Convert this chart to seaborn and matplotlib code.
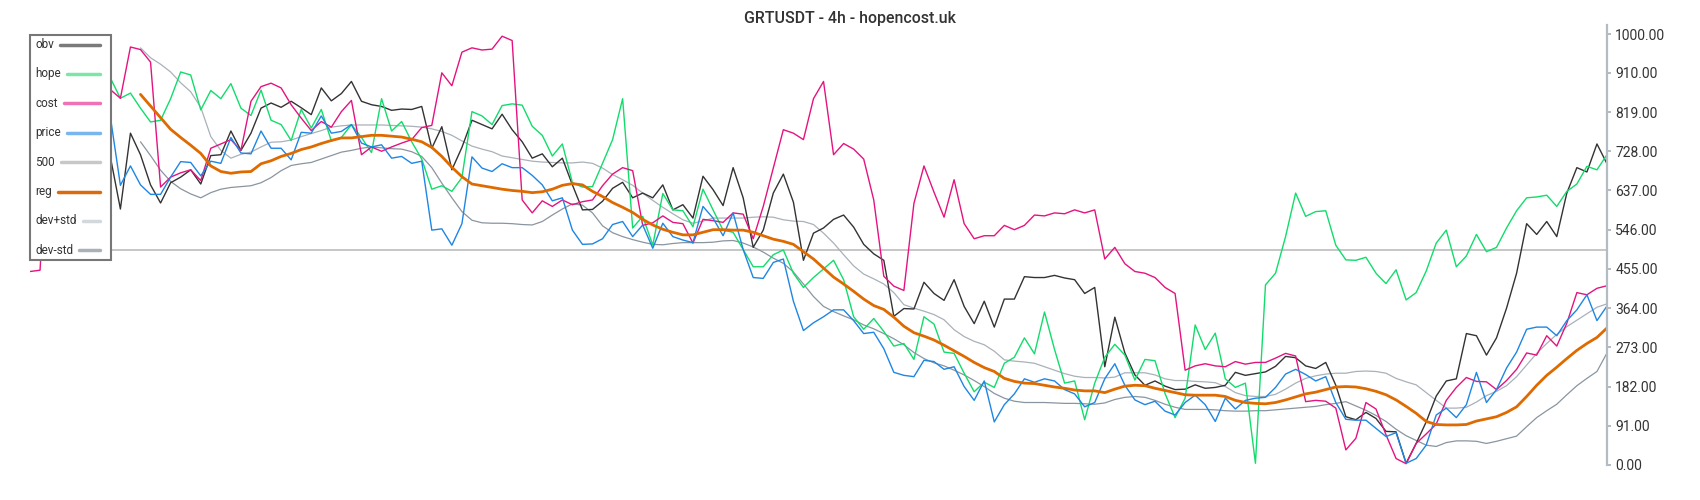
import matplotlib
matplotlib.use('Agg')
import matplotlib.pyplot as plt
from matplotlib.lines import Line2D
from matplotlib.patches import Rectangle
import pandas as pd
import seaborn as sns

nan = float('nan')

# normalised series, one value per 4h bar
obv = [760, 720, 800, 700, 780, 740, 690, 760, 715,
       594, 770, 720, 650, 608, 655, 668, 685, 652, 718, 720, 775, 730, 770, 828, 840, 830, 844, 829, 813,
       875, 845, 862, 890, 844, 836, 832, 823, 826, 825, 832, 735, 785, 685, 737, 800, 790, 780, 814, 778,
       750, 712, 722, 692, 712, 650, 592, 593,
       612, 642, 656, 620, 631, 620, 650, 592, 604, 573, 670, 639, 602, 690, 620, 505, 545, 631, 675, 610,
       475, 538, 550, 570, 580, 552, 512, 490,
       475, 345, 363, 362, 424, 398, 382, 430, 368, 328, 380, 320, 385, 385, 437, 435, 435, 440, 434, 430,
       398, 412, 228, 343, 260, 209, 185, 195,
       183, 175, 176, 186, 178, 180, 185, 215, 208, 212, 216, 229, 252, 249, 230, 224, 238, 185, 112, 105,
       122, 108, 78, 77, 4,
       50, 100, 160, 195, 200, 305, 300, 255, 295, 364, 445, 560, 535, 565, 530, 631, 690, 680, 745, 699]

hope = [880, 900, 860, 910, 870, 890, 850, 880, 898,
        851, 863, 828, 796, 800, 850, 912, 905, 824, 869, 850, 885, 828, 811, 870, 800, 790, 753, 825, 782,
        825, 752, 760, 790, 760, 725, 850, 775, 797, 750, 710, 640, 648, 635, 667, 820, 810, 790, 834, 838,
        835, 786, 765, 717, 745, 655, 645, 646,
        700, 755, 850, 550, 577, 510, 630, 592, 590, 553, 640, 592, 545, 540, 500, 460, 460, 488, 499, 445,
        412, 435, 455, 475, 430, 344, 315, 340,
        310, 276, 282, 245, 344, 327, 262, 259, 213, 170, 192, 180, 236, 250, 295, 258, 355, 268, 190, 195,
        105, 190, 250, 280, 255, 197, 245, 242,
        166, 110, 155, 325, 268, 306, 200, 180, 190, 4, 418, 445, 530, 631, 577, 588, 590, 510, 476, 475,
        482, 445, 421, 453, 383,
        400, 450, 515, 545, 460, 485, 535, 495, 505, 550, 590, 620, 622, 626, 600, 635, 652, 693, 685, 720]

cost = [449, 452, 870, 900, 880, 920, 890, 860, 871,
        851, 970, 964, 935, 645, 668, 678, 685, 660, 735, 745, 755, 730, 844, 878, 886, 875, 836, 805, 776,
        797, 784, 820, 846, 720, 738, 728, 738, 747, 755, 783, 788, 910, 880, 958, 968, 963, 965, 995, 985,
        615, 585, 613, 600, 615, 604, 611, 615,
        648, 675, 690, 683, 556, 562, 578, 563, 560, 515, 570, 567, 563, 585, 582, 525, 600, 689, 778, 770,
        755, 850, 890, 720, 746, 733, 710, 615,
        438, 415, 405, 607, 694, 633, 575, 662, 560, 525, 532, 532, 556, 546, 556, 580, 578, 585, 583, 592,
        585, 592, 478, 505, 467, 449, 445, 435,
        412, 398, 220, 230, 235, 230, 228, 240, 234, 238, 238, 248, 259, 253, 147, 150, 148, 132, 35, 62,
        145, 130, 70, 15, 3,
        50, 72, 95, 150, 180, 203, 194, 193, 175, 196, 222, 260, 255, 300, 276, 329, 400, 395, 410, 416]

price = [800, 830, 790, 850, 820, 780, 810, 840, 808,
         649, 694, 650, 628, 628, 668, 704, 702, 671, 705, 700, 760, 724, 722, 775, 735, 735, 708, 772, 770,
         810, 770, 774, 790, 747, 738, 743, 712, 716, 700, 705, 545, 548, 510, 560, 715, 689, 681, 699, 690,
         690, 672, 650, 613, 620, 545, 512, 513,
         525, 558, 565, 530, 557, 503, 561, 530, 522, 516, 600, 573, 532, 585, 500, 435, 433, 470, 478, 380,
         312, 330, 344, 360, 360, 335, 305, 308,
         270, 215, 208, 205, 243, 240, 222, 228, 182, 150, 195, 100, 140, 165, 200, 192, 200, 195, 175, 165,
         135, 145, 200, 235, 185, 151, 140, 148,
         125, 116, 145, 162, 140, 101, 155, 130, 150, 155, 157, 180, 211, 222, 210, 195, 205, 145, 106, 104,
         104, 85, 66, 75, 4,
         15, 46, 116, 132, 110, 140, 215, 145, 175, 225, 262, 315, 320, 320, 300, 335, 360, 395, 335, 369]

reg = [nan] * 11 + [
    860, 833, 806, 779, 760, 742, 723, 694, 681, 677, 680, 681, 699, 706, 716, 723, 732, 738,
    746, 753, 759, 759, 762, 765, 765, 763, 761, 756, 750, 737, 716, 691, 669, 652, 648, 644, 640, 637,
    635, 632, 634, 640, 649, 653, 650, 635,
    623, 609, 598, 586, 570, 557, 547, 540, 534, 534, 540, 546, 546, 545, 545, 540, 532, 524, 519, 512,
    495, 478, 457, 436, 420, 403, 385, 370,
    361, 343, 322, 307, 299, 290, 278, 265, 252, 238, 226, 217, 201, 194, 190, 189, 185, 181, 178, 174,
    172, 172, 168, 176, 183, 185, 184, 178,
    173, 168, 163, 162, 162, 162, 159, 150, 145, 143, 142, 145, 151, 158, 165, 169, 175, 181, 182, 181,
    177, 171, 163, 151, 136,
    120, 101, 94, 93, 93, 94, 102, 107, 112, 122, 135, 159, 185, 208, 227, 247, 266, 282, 296, 318]

dev_plus = [nan] * 11 + [
    968, 945, 930, 912, 887, 866, 830, 762, 730, 712, 721, 726, 738, 749, 750, 754, 762, 769,
    776, 784, 787, 789, 789, 789, 789, 788, 787, 786, 784, 780, 774, 765, 752, 740, 733, 727, 717, 713,
    709, 705, 703, 702, 701, 701, 703, 700,
    689, 674, 662, 649, 631, 614, 598, 583, 569, 561, 566, 573, 573, 573, 573, 575, 576, 575, 569, 566,
    565, 558, 538, 515, 488, 462, 443, 432,
    420, 400, 372, 364, 357, 349, 337, 314, 298, 287, 279, 264, 244, 241, 239, 236, 228, 220, 212, 206,
    203, 203, 202, 204, 214, 214, 214, 209,
    200, 196, 196, 194, 193, 191, 182, 168, 161, 159, 159, 164, 176, 190, 201, 207, 211, 213, 213, 217,
    218, 217, 213, 201, 193,
    186, 168, 150, 132, 132, 134, 146, 161, 171, 184, 205, 232, 259, 282, 303, 321, 336, 351, 366, 374]

dev_minus = [nan] * 11 + [
    750, 718, 684, 658, 641, 629, 620, 632, 640, 644, 646, 648, 655, 667, 683, 695, 699, 702,
    710, 718, 726, 730, 735, 738, 736, 734, 733, 727, 716, 690, 654, 620, 588, 568, 562, 561, 561, 560,
    558, 557, 565, 580, 594, 606, 603, 585,
    555, 539, 530, 523, 517, 512, 511, 514, 516, 516, 516, 517, 520, 521, 515, 506, 494, 480, 468, 448,
    420, 391, 368, 356, 346, 337, 325, 316,
    305, 293, 279, 261, 247, 237, 230, 220, 209, 196, 182, 166, 155, 148, 145, 145, 145, 144, 143, 143,
    142, 141, 144, 152, 157, 159, 157, 150,
    141, 134, 129, 129, 129, 128, 126, 125, 125, 126, 126, 128, 130, 132, 134, 136, 140, 143, 147, 137,
    127, 115, 101, 83, 68,
    57, 46, 43, 52, 56, 56, 55, 50, 55, 61, 67, 89, 110, 126, 141, 163, 184, 201, 217, 260]

level_500 = 500

tick_values = [0, 91, 182, 273, 364, 455, 546, 637, 728, 819, 910, 1000]

df = pd.DataFrame({'bar': range(len(obv)), 'obv': obv, 'hope': hope, 'cost': cost,
                   'price': price, 'reg': reg, 'dev+std': dev_plus, 'dev-std': dev_minus})

sns.set_style('white')
plt.rcParams['font.family'] = ['Roboto', 'DejaVu Sans']

W, H = 1700, 500
fig = plt.figure(figsize=(W / 100, H / 100), dpi=100)
ax = fig.add_axes([30 / W, 0.07, 1577 / W, 0.88])

# (column, line colour, legend colour, width)
styles = [
    ('dev+std', '#a9b1b9', '#d3d8dd', 0.9),
    ('dev-std', '#8a95a0', '#a8b1ba', 0.9),
    ('obv', '#333333', '#7a7a7a', 1.0),
    ('hope', '#12dc6c', '#7be6a6', 1.0),
    ('cost', '#e5137f', '#ee72b4', 1.0),
    ('price', '#1e86e3', '#7ab6ee', 1.0),
    ('reg', '#de6a00', '#d96a10', 2.0),
]

ax.axhline(level_500, color='#c6c6c6', lw=1.4, zorder=1)
for col, color, _, lw in styles:
    part = df[['bar', col]].dropna()
    sns.lineplot(x=part['bar'], y=part[col], color=color, lw=lw, estimator=None, ax=ax)

ax.set_xlim(0, len(obv) - 1)
ax.set_ylim(0, 1021)
ax.set_xlabel('')
ax.set_ylabel('')
ax.set_xticks([])
ax.yaxis.tick_right()
ax.set_yticks(tick_values)
ax.set_yticklabels([f'{v:.2f}' for v in tick_values])
ax.tick_params(axis='y', length=3, width=1.4, color='#b3bbc3', pad=3,
               labelsize=10, labelcolor='#333333')
for side in ['left', 'top', 'bottom']:
    ax.spines[side].set_visible(False)
ax.spines['right'].set_color('#b3bbc3')
ax.spines['right'].set_linewidth(1.6)

# legend box: label on the left, line stretched to the right edge
legend_colors = {c: lc for c, _, lc, _ in styles}
legend_colors['500'] = '#c8c8c8'
order = ['obv', 'hope', 'cost', 'price', '500', 'reg', 'dev+std', 'dev-std']

box = Rectangle((30 / W, 1 - 260 / H), 81 / W, 225 / H, transform=fig.transFigure,
                facecolor='white', edgecolor='#777777', lw=1.5, zorder=10)
fig.add_artist(box)
texts = []
for k, name in enumerate(order):
    yc = 1 - (44.5 + 29.4 * k) / H
    texts.append(fig.text(35 / W, yc, name, ha='left', va='center', fontsize=8.5,
                          color='#333333', zorder=11))
fig.canvas.draw()
renderer = fig.canvas.get_renderer()
for k, (name, t) in enumerate(zip(order, texts)):
    x_end = t.get_window_extent(renderer).x1
    yc = 1 - (44.5 + 29.4 * k) / H
    fig.add_artist(Line2D([(x_end + 6) / W, 100 / W], [yc, yc], transform=fig.transFigure,
                          color=legend_colors[name], lw=2.5, zorder=11))

fig.text(0.5, 1 - 19 / H, 'GRTUSDT - 4h - hopencost.uk', ha='center', va='center',
         fontsize=11.4, fontweight='medium', color='#333333')

fig.savefig('out.png', dpi=100)
